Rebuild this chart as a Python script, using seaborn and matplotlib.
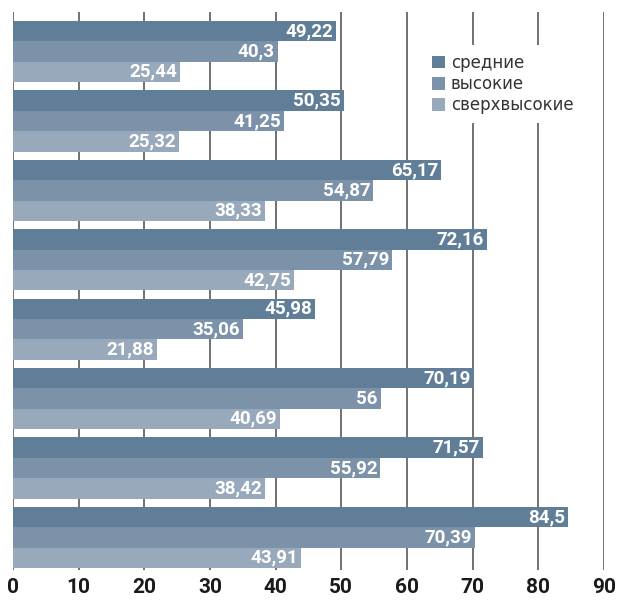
import matplotlib
matplotlib.use("Agg")
import matplotlib.pyplot as plt
import seaborn as sns
import pandas as pd

# Grouped values, one entry per group (top to bottom)
groups = ["1", "2", "3", "4", "5", "6", "7", "8"]
series = ["средние", "высокие", "сверхвысокие"]
srednie = [49.22, 50.35, 65.17, 72.16, 45.98, 70.19, 71.57, 84.5]
vysokie = [40.3, 41.25, 54.87, 57.79, 35.06, 56, 55.92, 70.39]
sverkh = [25.44, 25.32, 38.33, 42.75, 21.88, 40.69, 38.42, 43.91]
x_ticks = [0, 10, 20, 30, 40, 50, 60, 70, 80, 90]

colors = ["#607e97", "#7c92a9", "#98a9bb"]

rows = []
for name, vals in zip(series, [srednie, vysokie, sverkh]):
    for g, v in zip(groups, vals):
        rows.append({"group": g, "series": name, "value": v})
df = pd.DataFrame(rows)

sns.set_theme(style="white")
plt.rcParams["font.family"] = ["DejaVu Sans"]
num_font = ["Roboto", "DejaVu Sans"]

fig = plt.figure(figsize=(6.18, 6.02), dpi=100)
ax = fig.add_axes([13 / 618, 1 - 570 / 602, 591 / 618, 558 / 602])

sns.barplot(data=df, x="value", y="group", hue="series", orient="h",
            palette=colors, order=groups, hue_order=series,
            width=0.88, saturation=1, errorbar=None, linewidth=0,
            ax=ax, zorder=2)

ax.set_xlim(0, 90)
ax.set_ylim(7.47, -0.57)
ax.set_xticks(x_ticks)
ax.set_xticklabels([str(t) for t in x_ticks])
ax.set_yticks([])
ax.set_xlabel("")
ax.set_ylabel("")
for s in ax.spines.values():
    s.set_visible(False)

for t in x_ticks:
    ax.axvline(t, color="#4a4a4a", lw=1.1, zorder=1)

ax.tick_params(axis="x", length=0, pad=6)
for lab in ax.get_xticklabels():
    lab.set_family(num_font)
    lab.set_fontweight("bold")
    lab.set_fontsize(15)
    lab.set_color("#1a1a1a")

def fmt(v):
    return f"{v:g}".replace(".", ",")

for cont, vals in zip(ax.containers, [srednie, vysokie, sverkh]):
    for patch, v in zip(cont.patches, vals):
        y = patch.get_y() + patch.get_height() / 2
        ax.text(patch.get_width() - 0.45, y, fmt(v), ha="right", va="center",
                color="white", fontsize=13.5, fontweight="bold",
                family=num_font, zorder=3)

leg = ax.legend(loc="upper left", bbox_to_anchor=(0.68, 0.955), frameon=True,
                fontsize=12, handlelength=0.8, handleheight=0.8,
                handletextpad=0.35, labelspacing=0.2, borderpad=0.5)
leg.get_frame().set_facecolor("white")
leg.get_frame().set_edgecolor("none")
leg.get_frame().set_alpha(1)
leg.set_title(None)
for txt in leg.get_texts():
    txt.set_color("#333333")

fig.savefig("out.png", dpi=100)
